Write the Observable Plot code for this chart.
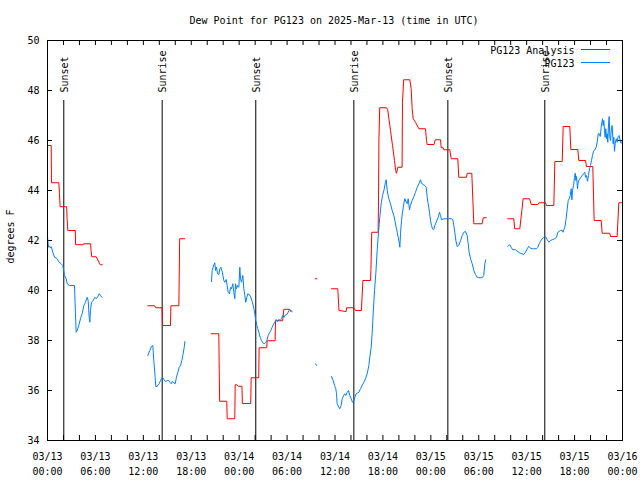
<!DOCTYPE html>
<html>
<head>
<meta charset="utf-8">
<script src="https://cdn.jsdelivr.net/npm/d3@7"></script>
<script src="https://cdn.jsdelivr.net/npm/@observablehq/plot@0.6"></script>
<style>
  html, body { margin: 0; padding: 0; background: #fff; }
  svg { display: block; }
</style>
</head>
<body>
<div id="chart"></div>
<script>
// ---- Axis definitions (hours since 2025-03-13 00:00 UTC) ----
const xLabelHours = [0, 6, 12, 18, 24, 30, 36, 42, 48, 54, 60, 66, 72];
const xLabels = ["03/13\n00:00", "03/13\n06:00", "03/13\n12:00", "03/13\n18:00",
                 "03/14\n00:00", "03/14\n06:00", "03/14\n12:00", "03/14\n18:00",
                 "03/15\n00:00", "03/15\n06:00", "03/15\n12:00", "03/15\n18:00", "03/16\n00:00"];
const xMinorHours = [0, 2, 4, 6, 8, 10, 12, 14, 16, 18, 20, 22, 24, 26, 28, 30, 32, 34, 36,
                     38, 40, 42, 44, 46, 48, 50, 52, 54, 56, 58, 60, 62, 64, 66, 68, 70, 72];
const yTicks = [34, 36, 38, 40, 42, 44, 46, 48, 50];

// ---- Sunrise / sunset ----
const sunHours = [2.04, 14.36, 26.08, 38.36, 50.13, 62.27];
const sunLabels = ["Sunset", "Sunrise", "Sunset", "Sunrise", "Sunset", "Sunrise"];

// ---- PG123 Analysis (red): [hour, dew point F] per continuous segment ----
const analysis1 = [[0,45.8],[0.46,45.8],[0.5,44.31],[1.42,44.31],[1.5,43.87],[1.58,43.35],[2.4,43.35],[2.45,42.87],[2.55,42.4],[3.48,42.4],[3.52,41.83],[4.48,41.83],[4.52,41.87],[5.4,41.87],[5.45,41.6],[5.55,41.35],[6.1,41.35],[6.6,41.03],[6.85,41.03]];
const analysis2 = [[12.56,39.39],[13.4,39.39],[13.55,39.31],[14.35,39.31],[14.4,38.6],[15.4,38.6],[15.45,39.39],[16.45,39.39],[16.55,42.07],[17.2,42.07]];
const analysis3 = [[20.5,38.27],[21.45,38.27],[21.55,35.57],[22.45,35.57],[22.5,34.87],[23.45,34.87],[23.5,36.23],[23.7,36.23],[23.9,36.17],[24.35,36.17],[24.4,35.48],[25.45,35.48],[25.5,36.51],[26.45,36.51],[26.5,37.71],[27.45,37.71],[27.5,37.99],[28.5,37.99],[28.55,38.79],[29.45,38.79],[29.5,38.97],[29.6,39.25],[30.3,39.25],[30.5,39.15]];
const analysis4 = [[33.55,40.47],[33.75,40.47]];
const analysis5 = [[35.56,40.07],[36.35,40.07],[36.5,39.2],[37.4,39.16],[37.45,39.31],[38.36,39.31],[38.57,39.2],[39.3,39.2],[39.5,40.4],[40.45,40.4],[40.5,40.85],[40.6,42.33],[41.4,42.33],[41.45,43.7],[41.5,46.07],[41.6,47.31],[42.45,47.31],[42.6,47.23],[42.95,46.4],[43.2,45.8],[43.45,45.2],[43.6,44.8],[43.7,44.69],[43.87,44.93],[44.4,44.93],[44.45,47.53],[44.6,48.43],[45.37,48.43],[45.54,48.07],[45.66,47.27],[45.79,46.87],[46.08,46.73],[46.5,46.47],[47.33,46.47],[47.46,46.0],[47.54,45.84],[48.4,45.84],[48.55,46.03],[49.21,46.03],[49.3,45.71],[49.55,45.71],[49.63,45.63],[50.38,45.63],[50.55,45.27],[51.38,45.27],[51.5,44.53],[52.47,44.53],[52.55,44.69],[53.13,44.69],[53.38,42.67],[54.43,42.67],[54.56,42.91],[54.93,42.91]];
const analysis6 = [[57.64,42.87],[58.39,42.87],[58.5,42.47],[59.14,42.47],[59.4,43.2],[59.55,43.67],[60.36,43.67],[60.57,43.44],[61.4,43.44],[61.53,43.51],[62.36,43.51],[62.49,43.4],[63.4,43.4],[63.53,45.16],[64.45,45.16],[64.57,46.56],[65.4,46.56],[65.53,45.64],[66.4,45.64],[66.53,45.2],[67.37,45.2],[67.49,44.96],[68.28,44.96],[68.45,42.8],[69.33,42.8],[69.46,42.29],[70.41,42.29],[70.5,42.16],[71.33,42.16],[71.54,43.51],[72,43.51]];

// ---- PG123 observations (blue): [hour, dew point F] per continuous segment ----
const observed1 = [[0,42.19],[0.04,42.0],[0.13,41.73],[0.25,41.77],[0.38,41.7],[0.46,41.75],[0.67,41.53],[0.88,41.33],[1.09,41.3],[1.21,41.27],[1.38,41.17],[1.59,41.1],[1.71,41.07],[1.92,41.0],[2.0,40.83],[2.13,40.6],[2.34,40.47],[2.46,40.27],[2.75,40.2],[3.38,40.2],[3.5,39.07],[3.59,38.33],[3.71,38.4],[3.92,38.6],[4.13,38.87],[4.34,39.07],[4.55,39.4],[4.76,39.53],[4.97,39.73],[5.09,39.6],[5.22,38.93],[5.3,38.73],[5.38,39.2],[5.51,39.53],[5.72,39.6],[5.93,39.73],[6.1,39.67],[6.3,39.75],[6.47,39.87],[6.64,39.8],[6.8,39.73]];
const observed2 = [[12.56,37.4],[12.81,37.6],[13.02,37.77],[13.19,37.8],[13.31,37.2],[13.48,36.53],[13.56,36.16],[13.73,36.16],[13.86,36.23],[13.98,36.27],[14.15,36.4],[14.28,36.47],[14.4,36.53],[14.57,36.44],[14.78,36.36],[14.99,36.4],[15.19,36.4],[15.32,36.33],[15.49,36.27],[15.61,36.36],[15.82,36.31],[15.99,36.27],[16.15,36.53],[16.32,36.73],[16.49,36.93],[16.65,37.0],[16.82,37.2],[16.99,37.47],[17.12,37.73],[17.2,37.96]];
const observed3 = [[20.54,40.36],[20.62,40.8],[20.83,41.03],[20.95,41.11],[21.04,40.8],[21.16,40.93],[21.29,40.67],[21.45,40.63],[21.58,40.87],[21.7,40.93],[21.87,40.76],[22.08,40.4],[22.2,40.33],[22.37,40.44],[22.5,40.2],[22.62,39.93],[22.79,39.87],[22.92,40.13],[23.04,40.07],[23.21,40.27],[23.33,39.93],[23.46,39.67],[23.54,40.27],[23.67,40.07],[23.79,40.2],[23.96,40.13],[24.08,40.93],[24.17,40.47],[24.29,40.33],[24.46,40.6],[24.58,40.07],[24.71,39.8],[24.83,39.53],[24.96,39.73],[25.08,39.87],[25.29,39.83],[25.46,39.73],[25.63,39.56],[25.76,39.4],[25.84,39.27],[25.96,39.07],[26.08,38.8],[26.21,38.6],[26.33,38.47],[26.46,38.33],[26.63,38.13],[26.8,38.0],[26.96,37.91],[27.13,37.87],[27.3,37.91],[27.46,38.0],[27.63,38.2],[27.8,38.31],[27.96,38.4],[28.13,38.53],[28.34,38.67],[28.51,38.76],[28.63,38.84],[28.8,38.76],[28.96,38.84],[29.18,38.8],[29.3,38.89],[29.46,39.0],[29.63,38.93],[29.8,39.03],[29.96,39.03],[30.14,39.13],[30.3,39.24],[30.47,39.2],[30.64,39.16]];
const observed4 = [[33.55,37.07],[33.7,37.0]];
const observed5 = [[35.56,36.56],[35.77,36.4],[35.94,36.2],[36.1,36.07],[36.19,35.87],[36.27,35.47],[36.48,35.33],[36.6,35.27],[36.77,35.4],[36.9,35.67],[37.07,35.8],[37.23,35.87],[37.35,35.8],[37.53,35.93],[37.69,36.0],[37.86,35.8],[38.03,35.67],[38.19,35.53],[38.36,35.6],[38.48,35.73],[38.65,35.87],[38.78,35.89],[38.99,35.93],[39.19,36.07],[39.4,36.2],[39.61,36.33],[39.82,36.47],[40.03,36.67],[40.24,37.0],[40.36,37.33],[40.53,37.73],[40.65,38.27],[40.78,39.07],[40.95,40.0],[41.11,40.67],[41.28,41.6],[41.45,42.33],[41.61,42.93],[41.78,43.47],[41.95,43.8],[42.12,44.0],[42.32,44.33],[42.41,44.43],[42.54,44.0],[42.74,43.67],[42.95,43.47],[43.16,43.2],[43.37,43.0],[43.49,42.8],[43.66,42.53],[43.79,42.33],[43.91,42.13],[44.04,41.93],[44.12,41.73],[44.2,42.27],[44.33,42.8],[44.45,43.13],[44.62,43.47],[44.74,43.67],[44.92,43.53],[45.04,43.47],[45.17,43.67],[45.33,43.23],[45.45,43.4],[45.66,43.6],[45.87,43.76],[46.08,43.93],[46.29,44.13],[46.5,44.27],[46.71,44.43],[46.83,44.29],[47.04,44.24],[47.25,44.2],[47.42,44.13],[47.54,43.73],[47.67,43.47],[47.83,43.13],[47.96,42.8],[48.08,42.6],[48.21,42.47],[48.38,42.44],[48.5,42.6],[48.67,42.73],[48.92,42.93],[49.09,43.13],[49.21,43.0],[49.34,42.83],[49.63,42.87],[50.05,42.87],[50.59,42.87],[50.76,42.83],[50.88,42.6],[51.0,42.33],[51.13,42.0],[51.3,41.76],[51.5,41.8],[51.72,42.0],[51.93,42.2],[52.13,42.33],[52.34,42.36],[52.55,42.2],[52.68,41.87],[52.8,41.53],[52.97,41.27],[53.18,41.07],[53.38,40.8],[53.59,40.64],[53.8,40.53],[54.01,40.51],[54.43,40.51],[54.63,40.6],[54.76,41.07],[54.88,41.23]];
const observed6 = [[57.64,41.77],[57.89,41.83],[58.06,41.73],[58.23,41.64],[58.6,41.63],[58.81,41.57],[59.02,41.53],[59.23,41.49],[59.44,41.47],[59.64,41.44],[59.85,41.53],[60.07,41.67],[60.27,41.77],[60.48,41.69],[60.69,41.67],[60.9,41.67],[61.23,41.67],[61.4,41.73],[61.57,41.87],[61.73,41.97],[61.94,42.07],[62.15,42.13],[62.36,42.16],[62.57,42.03],[62.78,41.93],[62.99,42.0],[63.19,42.03],[63.49,42.07],[63.74,42.13],[63.9,42.33],[64.07,42.37],[64.24,42.4],[64.45,42.4],[64.57,42.33],[64.66,42.43],[64.78,42.53],[64.91,42.8],[65.08,43.27],[65.2,43.6],[65.33,43.67],[65.45,43.8],[65.58,44.07],[65.66,43.63],[65.74,44.0],[65.87,44.2],[65.99,44.53],[66.08,44.69],[66.16,44.4],[66.24,44.56],[66.37,44.07],[66.45,44.33],[66.58,44.43],[66.74,44.51],[66.95,44.6],[67.12,44.67],[67.28,44.73],[67.37,44.53],[67.49,44.6],[67.62,44.37],[67.74,44.6],[67.87,44.87],[67.99,45.0],[68.12,45.2],[68.24,45.4],[68.37,45.57],[68.54,45.63],[68.7,45.73],[68.83,45.93],[68.96,46.27],[69.08,46.27],[69.21,46.16],[69.33,46.53],[69.41,46.73],[69.5,46.87],[69.58,46.6],[69.66,46.8],[69.75,46.4],[69.83,46.13],[69.91,46.47],[70.0,46.07],[70.08,46.27],[70.16,45.93],[70.25,46.67],[70.33,46.96],[70.41,46.13],[70.5,46.0],[70.62,46.53],[70.71,46.6],[70.83,45.87],[70.91,46.13],[71.0,45.57],[71.08,45.87],[71.21,46.07],[71.33,45.93],[71.46,46.16],[71.58,46.2],[71.66,46.07],[71.75,45.93],[71.87,45.89],[72.0,46.0]];

// ---- Text ----
const titleText = "Dew Point for PG123 on 2025-Mar-13 (time in UTC)";
const yAxisLabel = "degrees F";
const seriesNames = ["PG123 Analysis", "PG123"];
const seriesColors = ["#ff0000", "#0080ff"];

// ---- Tables built from the arrays ----
const toRows = (segments) => segments.flatMap((seg, k) => seg.map(([h, v]) => ({h, v, k})));
const analysisRows = toRows([analysis1, analysis2, analysis3, analysis4, analysis5, analysis6]);
const observedRows = toRows([observed1, observed2, observed3, observed4, observed5, observed6]);
const sunEvents = sunHours.map((h, i) => ({h, label: sunLabels[i]}));

// layout
const W = 640, H = 480, mL = 47, mR = 18, mT = 40, mB = 40, tickLen = 5;
const xDomain = [xLabelHours[0], xLabelHours[xLabelHours.length - 1]];
const yDomain = [yTicks[0], yTicks[yTicks.length - 1]];
// tick length expressed in data units so the ticks sit inside the frame
const xTickSpan = tickLen * (xDomain[1] - xDomain[0]) / (W - mL - mR);
const yTickSpan = tickLen * (yDomain[1] - yDomain[0]) / (H - mT - mB);

const chart = Plot.plot({
  width: W,
  height: H,
  marginLeft: mL,
  marginRight: mR,
  marginTop: mT,
  marginBottom: mB,
  style: {fontFamily: "'DejaVu Sans Mono', monospace", fontSize: "10px", background: "#fff", color: "#000"},
  x: {domain: xDomain, label: null},
  y: {domain: yDomain, label: null},
  marks: [
    // inward tick marks on all four sides
    Plot.ruleX(xMinorHours, {x: (d) => d, y1: yDomain[0], y2: yDomain[0] + yTickSpan, stroke: "#000"}),
    Plot.ruleX(xMinorHours, {x: (d) => d, y1: yDomain[1], y2: yDomain[1] - yTickSpan, stroke: "#000"}),
    Plot.ruleY(yTicks, {y: (d) => d, x1: xDomain[0], x2: xDomain[0] + xTickSpan, stroke: "#000"}),
    Plot.ruleY(yTicks, {y: (d) => d, x1: xDomain[1], x2: xDomain[1] - xTickSpan, stroke: "#000"}),
    // tick labels
    Plot.axisX({anchor: "bottom", ticks: xLabelHours, tickSize: 0, tickPadding: 9, lineHeight: 1.5,
                tickFormat: (h) => xLabels[xLabelHours.indexOf(h)], label: null}),
    Plot.axisY({anchor: "left", ticks: yTicks, tickSize: 0, tickPadding: 8, tickFormat: (d) => String(d), label: null}),
    // sunrise / sunset
    Plot.ruleX(sunEvents, {x: "h", insetTop: 60, stroke: "#000", strokeWidth: 1}),
    Plot.text(sunEvents, {x: "h", text: "label", frameAnchor: "top", dy: 52, dx: 1, rotate: -90,
                          textAnchor: "start", lineAnchor: "middle", fill: "#000"}),
    // data
    Plot.line(analysisRows, {x: "h", y: "v", z: "k", stroke: seriesColors[0], strokeWidth: 1, curve: "linear"}),
    Plot.line(observedRows, {x: "h", y: "v", z: "k", stroke: seriesColors[1], strokeWidth: 1, curve: "linear"}),
    // frame
    Plot.frame({stroke: "#000", strokeWidth: 1}),
    // legend
    Plot.text([seriesNames[0]], {text: (d) => d, frameAnchor: "top-right", dx: -48, dy: 10, textAnchor: "end", lineAnchor: "middle", fill: "#000"}),
    Plot.text([seriesNames[1]], {text: (d) => d, frameAnchor: "top-right", dx: -48, dy: 23, textAnchor: "end", lineAnchor: "middle", fill: "#000"}),
    Plot.ruleY([yDomain[1]], {dy: 9, insetLeft: 534, insetRight: 12, stroke: seriesColors[0]}),
    Plot.ruleY([yDomain[1]], {dy: 22, insetLeft: 534, insetRight: 12, stroke: seriesColors[1]}),
    // title and y label
    Plot.text([titleText], {text: (d) => d, frameAnchor: "top", dy: -20, dx: -1, lineAnchor: "middle", fill: "#000"}),
    Plot.text([yAxisLabel], {text: (d) => d, frameAnchor: "left", dx: -37, dy: -4, rotate: -90, textAnchor: "middle", lineAnchor: "middle", fill: "#000"})
  ]
});

document.getElementById("chart").appendChild(chart);
</script>
</body>
</html>
